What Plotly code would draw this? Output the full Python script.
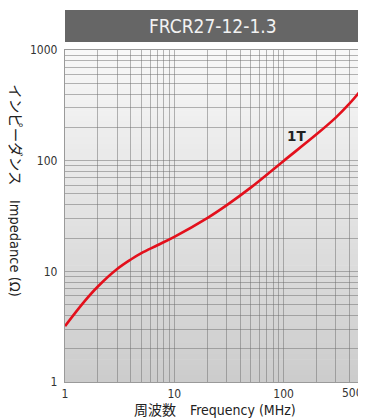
import numpy as np
import plotly.graph_objects as go

# ---- data ----
freq_mhz = [1, 1.5, 2, 3, 4, 5, 7, 10, 20, 30, 50, 100, 200, 300, 400, 500]
impedance_ohm = [3.2, 5.33, 7.3, 10.5, 12.8, 14.6, 17.2, 20.5, 30.3, 39.5, 57.1, 99.5, 173, 245, 327, 423]
series_label = "1T"
chart_title = "FRCR27-12-1.3"
x_tick_vals = [1, 10, 100, 500]
x_tick_text = ["1", "10", "100", "500"]
y_tick_vals = [1, 10, 100, 1000]
y_tick_text = ["1", "10", "100", "1000"]
x_minor_vals = [2, 3, 4, 5, 6, 7, 8, 9, 20, 30, 40, 50, 60, 70, 80, 90, 200, 300, 400]
y_minor_vals = [m * d for d in (1, 10, 100) for m in (2, 3, 4, 5, 6, 7, 8, 9)]
x_title = "周波数　Frequency (MHz)"
y_title = "インピーダンス　Impedance (Ω)"

FONT = "Liberation Sans Narrow, DejaVu Sans Condensed, Noto Sans CJK JP, sans-serif"
GRID = "rgba(110,110,110,0.5)"

fig = go.Figure()
fig.add_trace(go.Scatter(
    x=freq_mhz, y=impedance_ohm, mode="lines",
    line=dict(color="#e3101c", width=2.6, shape="spline", smoothing=1.0),
    showlegend=False, hoverinfo="skip",
))

# gradient background of plot area
shapes = []
n = 60
top = np.array([248, 248, 248])
bot = np.array([204, 204, 204])
for i in range(n):
    t = (i + 0.5) / n
    c = (top * (1 - t) + bot * t).round().astype(int)
    shapes.append(dict(
        type="rect", xref="x domain", yref="y domain",
        x0=0, x1=1, y0=1 - (i + 1) / n, y1=1 - i / n + 0.002,
        fillcolor=f"rgb({c[0]},{c[1]},{c[2]})", line=dict(width=0), layer="below",
    ))
# title bar
shapes.append(dict(
    type="rect", xref="paper", yref="paper",
    x0=0, x1=1, y0=1 + 8 / 332, y1=1 + 40 / 332,
    fillcolor="#666666", line=dict(width=0), layer="above",
))

# x tick labels: inner ones on the axis, the last one (at the right edge) right-aligned
inner_vals = x_tick_vals[:-1]
inner_text = x_tick_text[:-1]

fig.update_layout(
    width=358, height=411,
    margin=dict(l=57, r=6, t=42, b=37, autoexpand=False),
    paper_bgcolor="white", plot_bgcolor="rgba(0,0,0,0)",
    shapes=shapes,
    font=dict(family=FONT, size=12, color="#333333"),
    annotations=[
        dict(text=chart_title, xref="paper", yref="paper", x=0.5, y=1 + 24 / 332,
             xanchor="center", yanchor="middle", showarrow=False,
             font=dict(family=FONT, size=19, color="#f2f2f2")),
        dict(text=f"<b>{series_label}</b>", x=np.log10(130), y=np.log10(166),
             xref="x", yref="y", showarrow=False,
             font=dict(family="DejaVu Sans, sans-serif", size=13.5, color="#222222")),
        dict(text=y_title, xref="paper", yref="paper", x=-0.17, y=0.575,
             xanchor="center", yanchor="middle", textangle=90, showarrow=False,
             font=dict(family=FONT, size=14.5, color="#222222")),
        dict(text=x_title, xref="paper", yref="paper", x=0.51, y=-0.084,
             xanchor="center", yanchor="middle", showarrow=False,
             font=dict(family=FONT, size=14, color="#222222")),
        dict(text=x_tick_text[-1], x=np.log10(x_tick_vals[-1]), xref="x",
             y=0, yref="paper", yshift=-11, xshift=5,
             xanchor="right", yanchor="middle", showarrow=False,
             font=dict(family=FONT, size=12, color="#333333")),
    ],
)

fig.update_xaxes(
    type="log", range=[0, np.log10(500)], automargin=False,
    tickvals=inner_vals, ticktext=inner_text, ticks="",
    showgrid=True, gridcolor=GRID, gridwidth=1.3,
    minor=dict(tickvals=x_minor_vals, showgrid=True, gridcolor=GRID, gridwidth=1.3, ticks=""),
    showline=True, linecolor="#9a9a9a", linewidth=1.3, mirror=True,
    zeroline=False, tickfont=dict(size=12, color="#333333"),
)
fig.update_yaxes(
    type="log", range=[0, 3], automargin=False,
    tickvals=y_tick_vals, ticktext=y_tick_text, ticks="",
    ticklabeloverflow="allow",
    showgrid=True, gridcolor=GRID, gridwidth=1.3,
    minor=dict(tickvals=y_minor_vals, showgrid=True, gridcolor=GRID, gridwidth=1.3, ticks=""),
    showline=True, linecolor="#9a9a9a", linewidth=1.3, mirror=True,
    zeroline=False, tickfont=dict(size=12, color="#333333"), ticklabelstandoff=4,
)

fig.write_html("out.html")
